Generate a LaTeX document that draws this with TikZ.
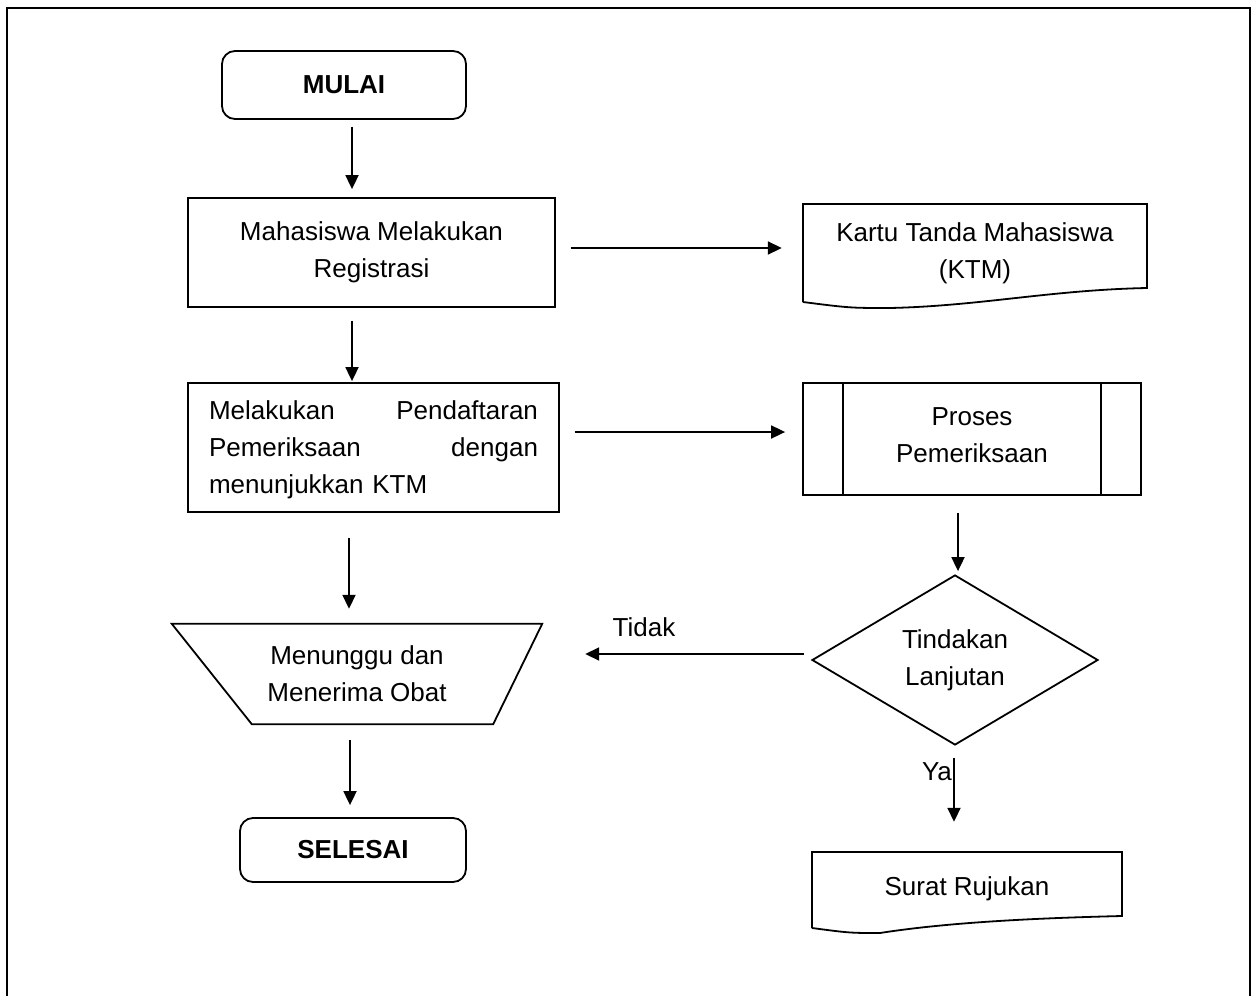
\documentclass[tikz,border=0pt]{standalone}
\usepackage{fontspec}
\setmainfont{Liberation Sans}
\usetikzlibrary{shapes.geometric,arrows.meta,calc}

\tikzset{
  txt/.style={font=\fontsize{26}{37}\selectfont, align=center, inner sep=0pt},
  outline/.style={line width=1.8pt, line join=miter},
  boxnode/.style={txt, draw, outline},
  terminal/.style={txt, draw, outline, rounded corners=13pt,
                   font=\fontsize{26}{37}\selectfont\bfseries},
  decision/.style={txt, draw, outline, diamond, aspect=1.68,
                   minimum width=286pt, minimum height=170pt},
  arr/.style={line width=1.8pt, -{Triangle[length=14pt,width=13pt]}},
  lbl/.style={font=\fontsize{26}{30}\selectfont, inner sep=0pt},
}

\begin{document}
\begin{tikzpicture}[x=1pt,y=-1pt]
\useasboundingbox (0,0) rectangle (1253,996);

% page frame (open at the bottom)
\draw[line width=2pt] (7,996) -- (7,8) -- (1250,8) -- (1250,996);

% start / end
\node[terminal, minimum width=244pt, minimum height=68pt] (mulai) at (344,85) {MULAI};
\node[terminal, minimum width=226pt, minimum height=64pt] (selesai) at (353,850) {SELESAI};

% registration
\node[boxnode, minimum width=367pt, minimum height=109pt] (reg) at (371.5,252.5)
  {Mahasiswa Melakukan\\Registrasi};

% student card (document shape)
\node[txt, minimum width=344pt, minimum height=98pt] (ktm) at (975,253)
  {\raisebox{-4pt}{Kartu Tanda Mahasiswa}\\\raisebox{-4pt}{(KTM)}};
\draw[outline] (803,302) -- (803,204) -- (1147,204) -- (1147,288)
  .. controls (1050,290) and (980,306) .. (890,308)
  .. controls (850,308) .. (803,302);

% registration for examination (justified lines)
\node[draw, outline, minimum width=371pt, minimum height=129pt, inner sep=0pt] (daftar) at (373.5,447.5) {};
\node[txt, text width=329pt, align=left] at ($(daftar.center)+(0,2)$)
  {Melakukan\hfill Pendaftaran\\Pemeriksaan\hfill dengan\\menunjukkan KTM};

% predefined process
\node[boxnode, minimum width=338pt, minimum height=112pt] (proses) at (972,439)
  {\raisebox{8pt}{Proses}\\\raisebox{8pt}{Pemeriksaan}};
\draw[outline] ($(proses.north west)+(41,0)$) -- ($(proses.south west)+(41,0)$);
\draw[outline] ($(proses.north east)+(-41,0)$) -- ($(proses.south east)+(-41,0)$);

% decision
\node[decision] (dec) at (955,660) {Tindakan\\Lanjutan};

% manual operation
\node[txt, minimum width=370pt, minimum height=100pt] (trap) at (357,674)
  {Menunggu dan\\Menerima Obat};
\draw[outline] (trap.north west) -- (trap.north east)
  -- ($(trap.south east)+(-49,0)$) -- ($(trap.south west)+(80,0)$) -- cycle;

% referral letter (document shape)
\node[txt, minimum width=310pt, minimum height=76pt] (surat) at (967,890)
  {\raisebox{7pt}{Surat Rujukan}};
\draw[outline] (812,928) -- (812,852) -- (1122,852) -- (1122,916)
  .. controls (1040,918) and (950,922) .. (880,933)
  .. controls (850,933) .. (812,928);

% connectors
\draw[arr] ($(mulai.south)+(8,7)$) -- ($(reg.north -| mulai.south)+(8,-8)$);
\draw[arr] ($(reg.east)+(15,-4.5)$) -- ($(ktm.west |- reg.east)+(-21,-4.5)$);
\draw[arr] ($(reg.south -| mulai.south)+(8,13)$) -- ($(daftar.north -| mulai.south)+(8,-1)$);
\draw[arr] ($(daftar.east)+(15,-15.5)$) -- ($(proses.west |- daftar.east)+(-17,-15.5)$);
\draw[arr] ($(proses.south)+(-14,17)$) -- ($(dec.north -| proses.south)+(-14,-3)$);
\draw[arr] ($(daftar.south -| mulai.south)+(5,25)$) -- ($(trap.north -| mulai.south)+(5,-15)$);
\draw[arr] ($(dec.west)+(-7,-6)$) -- ($(trap.east |- dec.west)+(43,-6)$);
\draw[arr] ($(trap.south -| mulai.south)+(6,16)$) -- ($(selesai.north -| mulai.south)+(6,-12)$);
\draw[arr] ($(dec.south)+(-1,12)$) -- ($(surat.north -| dec.south)+(-1,-30)$);

% branch labels
\node[lbl] (tidak) at (644,627) {Tidak};
\node[lbl] (ya) at (937,772) {Ya};
\end{tikzpicture}
\end{document}
